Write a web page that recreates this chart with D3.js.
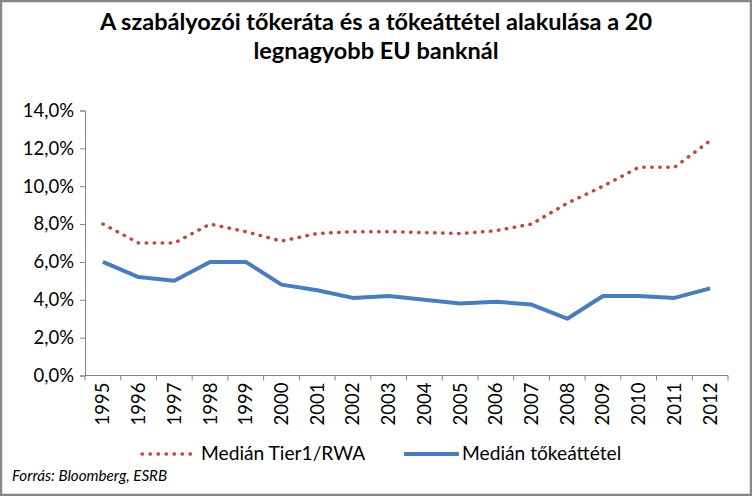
<!DOCTYPE html>
<html><head><meta charset="utf-8">
<script src="https://cdn.jsdelivr.net/npm/d3@7"></script>
<style>
html,body{margin:0;padding:0;background:#fff;}
svg{display:block;}
text{font-family:Lato,"Open Sans",sans-serif;fill:#000;}
</style></head>
<body>
<svg id="c" width="752" height="496"></svg>
<script>
const years = ["1995","1996","1997","1998","1999","2000","2001","2002","2003","2004","2005","2006","2007","2008","2009","2010","2011","2012"];
const tier1 = [8.0,7.0,7.0,8.0,7.6,7.1,7.5,7.6,7.6,7.55,7.5,7.65,8.0,9.1,10.0,11.0,11.0,12.4];
const leverage = [6.0,5.2,5.0,6.0,6.0,4.8,4.5,4.1,4.2,4.0,3.8,3.9,3.75,3.0,4.2,4.2,4.1,4.6];
const yTicks = [0,2,4,6,8,10,12,14];
const titleLines = ["A szabályozói tőkeráta és a tőkeáttétel alakulása a 20","legnagyobb EU banknál"];
const seriesNames = ["Medián Tier1/RWA","Medián tőkeáttétel"];
const sourceText = "Forrás: Bloomberg, ESRB";

const svg = d3.select("#c");
const W = 752, H = 496;
svg.append("rect").attr("x",1).attr("y",1).attr("width",W-2).attr("height",H-2)
  .attr("fill","#fff").attr("stroke","#878787").attr("stroke-width",2.5);

const m = {left:85, right:728, top:110.5, bottom:375.5};
const x = d3.scaleBand().domain(years).range([m.left,m.right]).padding(0);
const y = d3.scaleLinear().domain([0,14]).range([m.bottom,m.top]);
const fmt = d => d3.format(".1f")(d).replace(".",",")+"%";

// title
svg.append("g").selectAll("text").data(titleLines).join("text")
  .attr("x",376).attr("y",(d,i)=>30+i*29).attr("text-anchor","middle")
  .attr("font-size",23.5).attr("font-weight","bold").text(d=>d);

// y axis
const ya = svg.append("g").attr("transform",`translate(${m.left},0)`)
  .call(d3.axisLeft(y).tickValues(yTicks).tickFormat(fmt).tickSize(5).tickPadding(6));
ya.select(".domain").attr("stroke","#868686");
ya.selectAll(".tick line").attr("stroke","#868686");
ya.selectAll(".tick text").attr("font-size",18.5).attr("font-family","Lato,'Open Sans',sans-serif").attr("fill","#000");

// x axis
const xa = svg.append("g").attr("transform",`translate(0,${m.bottom})`)
  .call(d3.axisBottom(x).tickSize(0).tickPadding(0));
xa.select(".domain").attr("stroke","#868686").attr("d",`M${m.left},0H${m.right}`);
xa.selectAll(".tick text").attr("font-size",18.5).attr("font-family","Lato,'Open Sans',sans-serif").attr("fill","#000")
  .attr("transform","rotate(-90)").attr("text-anchor","end").attr("dy","0.35em").attr("x",-7).attr("y",0);
// category boundary ticks
const bounds = years.map(d=>x(d)).concat([m.right]);
svg.append("g").selectAll("line").data(bounds).join("line")
  .attr("x1",d=>d).attr("x2",d=>d).attr("y1",m.bottom).attr("y2",m.bottom+5)
  .attr("stroke","#868686");

const cx = d => x(d)+x.bandwidth()/2;
const line = d3.line().x((d,i)=>cx(years[i])).y(d=>y(d));

svg.append("path").datum(tier1).attr("d",line).attr("fill","none")
  .attr("stroke","#be4b48").attr("stroke-width",3.5).attr("stroke-linecap","round")
  .attr("stroke-dasharray","0.5 7.5");
svg.append("path").datum(leverage).attr("d",line).attr("fill","none")
  .attr("stroke","#4a7ebb").attr("stroke-width",4).attr("stroke-linejoin","round");

// legend
const lg = svg.append("g");
lg.append("line").attr("x1",142).attr("x2",194).attr("y1",454).attr("y2",454)
  .attr("stroke","#be4b48").attr("stroke-width",3.5).attr("stroke-linecap","round").attr("stroke-dasharray","0.5 7.5");
lg.append("text").attr("x",201).attr("y",460).attr("font-size",19.2).text(seriesNames[0]);
lg.append("line").attr("x1",404).attr("x2",459).attr("y1",454).attr("y2",454)
  .attr("stroke","#4a7ebb").attr("stroke-width",4);
lg.append("text").attr("x",462).attr("y",460).attr("font-size",19.2).text(seriesNames[1]);

svg.append("text").attr("x",12).attr("y",481).attr("font-size",15.2).attr("font-style","italic").text(sourceText);
</script>
</body></html>
